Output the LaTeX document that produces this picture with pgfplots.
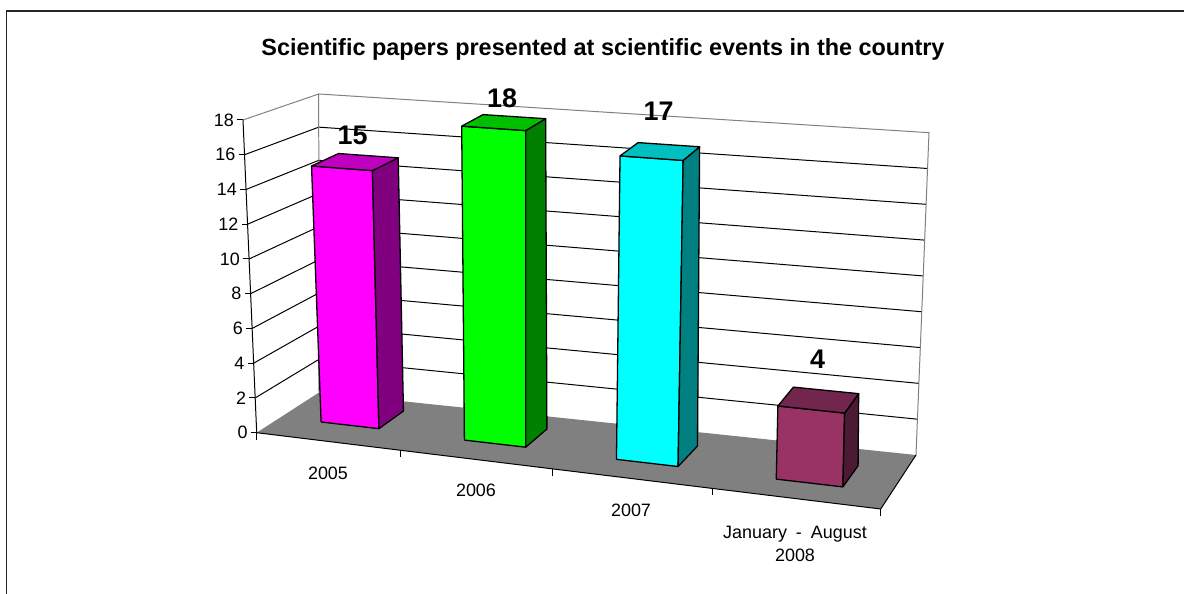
\documentclass[border=0pt]{standalone}
\usepackage{pgfplots}
\usepackage{pgfplotstable}
\usepackage{fontspec}
\pgfplotsset{compat=1.18}
\setmainfont{Liberation Sans}

% position along categories (0..4), depth (0 front, 1 back), value (0..18) -> picture pixels
\tikzset{declare function={
  dena(\u,\v)=1-0.1902*\u/4+0.05647*\v;
  denb(\u,\v)=1-0.1595*\u/4+0.0731*\v;
  xlow(\u,\v)=(256.7+456.49*\u/4+80.31*\v)/dena(\u,\v);
  ylow(\u,\v)=(432.7-20.51*\u/4-18.04*\v)/dena(\u,\v);
  xtop(\u,\v)=(243+506.73*\u/4+99*\v)/denb(\u,\v)-70*\v*\v*(1-\v);
  ytop(\u,\v)=(120+20.36*\u/4-19.13*\v)/denb(\u,\v)+8*\v*(1-\v);
  wx(\u,\v,\z)=(1-\z/18)*xlow(\u,\v)+\z/18*xtop(\u,\v);
  wy(\u,\v,\z)=(1-\z/18)*ylow(\u,\v)+\z/18*ytop(\u,\v);
}}
\pgfkeys{/pgfplots/table/proj/.style={x expr={wx(\thisrow{u},\thisrow{v},\thisrow{z})},y expr={wy(\thisrow{u},\thisrow{v},\thisrow{z})},row sep=\\}}

% u0 u1 v0 v1 value front side top
\newcommand{\threedbar}[8]{%
  \addplot[fill=#6,draw=black,line width=1.3pt,line join=round] table[proj]{u v z\\ #1 #3 0\\ #2 #3 0\\ #2 #3 #5\\ #1 #3 #5\\ #1 #3 0\\};
  \addplot[fill=#7,draw=black,line width=1.3pt,line join=round] table[proj]{u v z\\ #2 #3 0\\ #2 #4 0\\ #2 #4 #5\\ #2 #3 #5\\ #2 #3 0\\};
  \addplot[fill=#8,draw=black,line width=1.3pt,line join=round] table[proj]{u v z\\ #1 #3 #5\\ #2 #3 #5\\ #2 #4 #5\\ #1 #4 #5\\ #1 #3 #5\\};
}

\definecolor{maga}{HTML}{FF00FF}\definecolor{magb}{HTML}{800080}\definecolor{magc}{HTML}{BF00BF}
\definecolor{gra}{HTML}{00FF00}\definecolor{grb}{HTML}{008000}\definecolor{grc}{HTML}{00BF00}
\definecolor{cya}{HTML}{00FFFF}\definecolor{cyb}{HTML}{008080}\definecolor{cyc}{HTML}{00BFBF}
\definecolor{pla}{HTML}{993366}\definecolor{plb}{HTML}{4D1A33}\definecolor{plc}{HTML}{73264D}

\pgfplotstableread[row sep=\\]{u v\\ 0 0\\ 0 1\\ 4 1\\}\wallpath

\begin{document}
\begin{tikzpicture}[x=1bp,y=1bp]
\useasboundingbox (0,0) rectangle (1184,594);
\begin{axis}[
  at={(0,0)},anchor=south west,
  scale only axis,width=1184bp,height=594bp,
  xmin=0,xmax=1184,ymin=0,ymax=594,y dir=reverse,
  hide axis,clip=false,
]
% frame, only top and left show
\addplot[black!85,line width=1.2pt] coordinates {(6.5,594) (6.5,11) (1184,11)};

% floor
\addplot[fill=black!50,draw=none] table[proj]{u v z\\ 0 0 0\\ 4 0 0\\ 4 1 0\\ 0 1 0\\ 0 0 0\\};

% grid lines on both walls
\pgfplotsinvokeforeach{2,4,6,8,10,12,14,16}{
  \addplot[black,line width=1pt] table[x expr={wx(\thisrow{u},\thisrow{v},#1)},y expr={wy(\thisrow{u},\thisrow{v},#1)}] {\wallpath};
}
\addplot[black!50,line width=1pt] table[proj]{u v z\\ 0 1 0\\ 0 1 18\\ 0 0 18\\};
\addplot[black!50,line width=1pt] table[proj]{u v z\\ 0 1 18\\ 4 1 18\\ 4 1 0\\};

% floor edges, axis and ticks
\addplot[black,line width=1pt] table[proj]{u v z\\ 0 0 0\\ 4 0 0\\ 4 1 0\\};
\addplot[black,line width=1pt] table[proj]{u v z\\ 0 0 18\\ 0 0 0\\};
\pgfplotsinvokeforeach{0,2,4,6,8,10,12,14,16,18}{
  \addplot[black,line width=1pt] table[row sep=\\,x expr={wx(0,0,#1)+\thisrow{d}},y expr={wy(0,0,#1)}]{d\\ 0\\ -6\\};
}
\pgfplotsinvokeforeach{0,1.08,2.108,3.08,4}{
  \addplot[black,line width=1pt] table[row sep=\\,x expr={wx(#1,0,0)},y expr={wy(#1,0,0)+\thisrow{d}}]{d\\ 0\\ 7\\};
}

% bars: u0 u1 v0 v1 value
\threedbar{0.32}{0.76}{0.37}{0.79}{15}{maga}{magb}{magc}
\threedbar{1.39}{1.81}{0.34}{0.74}{18}{gra}{grb}{grc}
\threedbar{2.41}{2.79}{0.31}{0.73}{17}{cya}{cyb}{cyc}
\threedbar{3.37}{3.74}{0.29}{0.69}{4}{pla}{plb}{plc}

% value labels above the bars, z here only places the label
\addplot[draw=none,nodes near coords,point meta=explicit symbolic,
  every node near coord/.style={font=\fontsize{27}{27}\selectfont\bfseries,anchor=south,yshift=3bp,text=black,inner sep=0pt}]
  table[proj,meta=val]{u v z val\\ 0.54 0.58 15.85 15\\ 1.60 0.54 18.7 18\\ 2.60 0.52 18.6 17\\ 3.55 0.49 5.55 4\\};

% value axis labels
\addplot[draw=none,nodes near coords,point meta=explicit symbolic,
  every node near coord/.style={font=\fontsize{18}{18}\selectfont,anchor=east,xshift=-9bp,text=black,inner sep=0pt}]
  table[proj,meta=z]{u v z\\ 0 0 0\\ 0 0 2\\ 0 0 4\\ 0 0 6\\ 0 0 8\\ 0 0 10\\ 0 0 12\\ 0 0 14\\ 0 0 16\\ 0 0 18\\};

\node[font=\fontsize{18}{18}\selectfont] at (axis cs:328,473) {2005};
\node[font=\fontsize{18}{18}\selectfont] at (axis cs:476,490) {2006};
\node[font=\fontsize{18}{18}\selectfont] at (axis cs:631,510) {2007};
\node[font=\fontsize{18}{23.5}\selectfont,align=center] at (axis cs:795,544) {January\hspace{4bp} - \hspace{4bp}August\\2008};
\node[font=\fontsize{23.5}{23.5}\selectfont\bfseries] at (axis cs:603,49) {Scientific papers presented at scientific events in the country};
\end{axis}
\end{tikzpicture}
\end{document}
